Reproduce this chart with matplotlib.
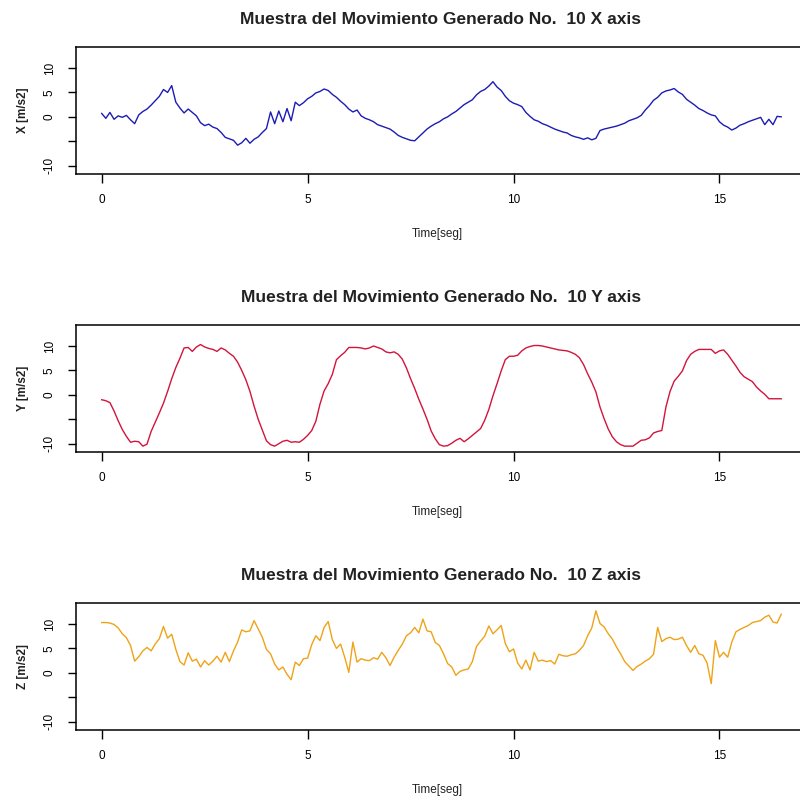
import numpy as np
import matplotlib
matplotlib.use("Agg")
import matplotlib.pyplot as plt

plt.rcParams['font.family'] = ['Liberation Sans', 'DejaVu Sans']

dt = 0.1  # sampling interval of the read-off values [s]

x_vals = [0.7, -0.3, 0.9, -0.5, 0.2, -0.1, 0.3, -0.6, -1.4, 0.4,
          1.1, 1.6, 2.4, 3.3, 4.2, 5.6, 5.0, 6.4, 3.0, 1.8,
          0.8, 1.6, 0.9, 0.2, -1.2, -1.8, -1.5, -2.1, -2.4, -3.2,
          -4.2, -4.5, -4.8, -5.8, -5.3, -4.4, -5.4, -4.6, -4.1, -3.2,
          -2.4, 1.0, -1.4, 1.2, -1.0, 1.7, -0.8, 3.0, 2.3, 2.9,
          3.7, 4.2, 4.9, 5.2, 5.7, 5.4, 4.6, 4.0, 3.2, 2.5,
          1.6, 1.0, 1.4, 0.2, -0.3, -0.6, -1.0, -1.6, -1.9, -2.2,
          -2.5, -3.1, -3.8, -4.2, -4.5, -4.8, -4.9, -4.1, -3.3, -2.5,
          -1.9, -1.4, -1.0, -0.4, 0.0, 0.6, 1.1, 1.8, 2.5, 3.0,
          3.5, 4.5, 5.2, 5.6, 6.3, 7.2, 6.1, 5.4, 4.2, 3.3,
          2.8, 2.5, 2.1, 0.9, 0.1, -0.6, -0.9, -1.4, -1.7, -2.1,
          -2.5, -2.8, -3.1, -3.3, -3.8, -4.1, -4.3, -4.6, -4.3, -4.7,
          -4.4, -2.8, -2.5, -2.3, -2.1, -1.9, -1.6, -1.3, -0.8, -0.5,
          -0.2, 0.3, 1.4, 2.3, 3.4, 4.0, 4.9, 5.3, 5.5, 5.8,
          5.1, 4.6, 3.6, 3.0, 2.4, 1.7, 1.3, 0.8, 0.4, 0.2,
          -1.0, -1.7, -2.1, -2.7, -2.3, -1.7, -1.4, -1.0, -0.7, -0.4,
          -0.1, -1.6, -0.5, -1.6, 0.1, 0.0]

y_vals = [-1.0, -1.2, -1.6, -3.3, -5.3, -7.1, -8.5, -9.7, -9.5, -9.6,
          -10.5, -10.1, -7.5, -5.6, -3.7, -1.7, 0.7, 3.3, 5.6, 7.5,
          9.6, 9.7, 8.9, 9.8, 10.3, 9.8, 9.5, 9.3, 8.9, 9.6,
          9.2, 8.5, 7.9, 6.7, 5.0, 3.1, 0.7, -2.3, -5.0, -7.2,
          -9.4, -10.2, -10.5, -10.0, -9.5, -9.3, -9.7, -9.6, -9.7, -9.1,
          -8.3, -7.3, -5.4, -1.9, 0.8, 2.3, 4.2, 7.2, 8.0, 8.7,
          9.7, 9.7, 9.7, 9.6, 9.4, 9.6, 10.0, 9.7, 9.4, 8.8,
          8.6, 8.8, 8.3, 7.3, 5.5, 3.3, 1.3, -0.9, -2.9, -5.0,
          -7.4, -9.0, -10.2, -10.5, -10.4, -9.9, -9.3, -8.9, -9.6, -9.0,
          -8.3, -7.6, -6.9, -5.2, -3.0, -0.2, 2.3, 4.9, 7.2, 7.9,
          7.9, 8.1, 9.0, 9.6, 9.9, 10.1, 10.1, 10.0, 9.8, 9.6,
          9.4, 9.2, 9.1, 9.0, 8.7, 8.3, 7.6, 6.2, 4.3, 2.6,
          0.6, -2.5, -4.9, -7.0, -8.6, -9.6, -10.2, -10.5, -10.5, -10.5,
          -9.9, -9.3, -9.2, -8.8, -7.8, -7.5, -7.3, -2.5, 0.7, 2.8,
          3.8, 4.9, 7.0, 8.3, 8.9, 9.3, 9.3, 9.3, 9.3, 8.5,
          9.0, 9.2, 8.3, 7.1, 5.9, 4.6, 3.7, 3.2, 2.7, 1.6,
          0.8, 0.1, -0.8, -0.8, -0.8, -0.8]

z_vals = [10.3, 10.3, 10.2, 9.9, 9.2, 8.0, 7.2, 5.6, 2.4, 3.3,
          4.5, 5.2, 4.5, 5.9, 7.0, 9.5, 7.1, 7.9, 4.8, 2.3,
          1.6, 4.1, 2.4, 2.8, 1.2, 2.5, 1.6, 2.4, 3.4, 2.2,
          4.2, 2.3, 4.5, 6.3, 8.8, 8.4, 8.6, 10.7, 9.0, 7.3,
          4.8, 3.9, 1.8, 0.6, 1.2, -0.3, -1.4, 2.2, 1.5, 2.9,
          3.0, 5.8, 7.6, 6.6, 9.3, 10.5, 6.8, 5.0, 5.9, 3.2,
          0.1, 6.3, 2.2, 2.9, 2.6, 2.5, 3.1, 2.8, 4.2, 3.1,
          1.5, 3.2, 4.6, 5.9, 7.6, 8.2, 9.3, 8.2, 11.0, 8.6,
          8.4, 6.2, 5.6, 3.9, 1.9, 1.2, -0.5, 0.3, 0.6, 0.8,
          2.3, 5.4, 6.5, 7.5, 9.6, 8.0, 8.8, 9.7, 6.0, 4.3,
          4.9, 2.0, 0.8, 2.6, 0.6, 4.2, 2.4, 2.6, 2.3, 2.5,
          1.8, 3.8, 3.5, 3.4, 3.7, 3.9, 4.6, 5.6, 7.6, 9.2,
          12.7, 10.1, 9.4, 8.0, 6.9, 5.3, 3.9, 2.3, 1.4, 0.5,
          1.3, 1.8, 2.4, 2.9, 3.8, 9.3, 6.4, 7.0, 7.3, 6.8,
          6.9, 7.3, 5.6, 4.2, 5.6, 3.9, 3.6, 2.0, -2.2, 6.6,
          3.2, 4.2, 3.2, 6.3, 8.4, 8.9, 9.3, 9.7, 10.3, 10.5,
          10.7, 11.4, 11.8, 10.4, 10.2, 12.0]

series = [x_vals, y_vals, z_vals]
axis_names = ["X", "Y", "Z"]
colors = ["#1C1CB4", "#D2143C", "#EEA318"]
title_fmt = "Muestra del Movimiento Generado No.  10 {} axis"
xticks = [0, 5, 10, 15]
yticks = [-10, -5, 0, 5, 10]
ytick_labels = ["-10", "", "0", "5", "10"]

W, H = 800, 801
fig = plt.figure(figsize=(W / 100, H / 100), dpi=100)

# axes boxes in pixel coordinates (left, top, right, bottom)
boxes = [(76, 47, 808, 174), (76, 325, 808, 452), (76, 603, 808, 730)]

for vals, name, col, (l, t, r, b) in zip(series, axis_names, colors, boxes):
    ax = fig.add_axes([l / W, 1 - b / H, (r - l) / W, (b - t) / H])
    time = np.arange(len(vals)) * dt
    ax.plot(time, vals, color=col, lw=1.0)
    ax.set_xlim(-0.624, 17.15)
    ax.set_ylim(-11.7, 14.3)
    ax.set_xticks(xticks)
    ax.set_xticklabels([str(v) for v in xticks])
    ax.set_yticks(yticks)
    ax.set_yticklabels(ytick_labels, rotation=90, va='center')
    ax.tick_params(axis='x', length=6.5, width=1.0, pad=8, labelsize=8.5)
    ax.tick_params(axis='y', length=5.5, width=1.0, pad=9, labelsize=8.5)
    for s in ax.spines.values():
        s.set_linewidth(1.1)
    ax.annotate(title_fmt.format(name), xy=(0.5, 1), xycoords='axes fraction',
                xytext=(-1, 20), textcoords='offset points', ha='center', va='center',
                fontsize=12.5, fontweight='bold', color='#222222')
    ax.annotate("Time[seg]", xy=(0.5, 0), xycoords='axes fraction',
                xytext=(-3, -43), textcoords='offset points', ha='center', va='center',
                fontsize=8.5, color='#222222')
    ax.annotate(name + " [m/s2]", xy=(0, 0.5), xycoords='axes fraction',
                xytext=(-38, 0), textcoords='offset points', ha='center', va='center',
                rotation=90, fontsize=8.5, fontweight='bold', color='#222222')

fig.savefig("out.png", dpi=100)
